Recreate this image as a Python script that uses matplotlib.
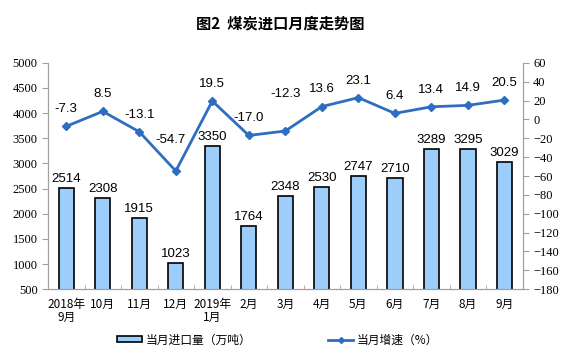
import matplotlib
matplotlib.use('Agg')
import matplotlib.pyplot as plt
from matplotlib.lines import Line2D
from matplotlib.patches import Patch

plt.rcParams['font.family'] = ['Noto Sans CJK SC', 'DejaVu Sans']

months = ['2018年\n9月', '10月', '11月', '12月', '2019年\n1月', '2月', '3月',
          '4月', '5月', '6月', '7月', '8月', '9月']
imports = [2514, 2308, 1915, 1023, 3350, 1764, 2348, 2530, 2747, 2710, 3289, 3295, 3029]
growth = [-7.3, 8.5, -13.1, -54.7, 19.5, -17.0, -12.3, 13.6, 23.1, 6.4, 13.4, 14.9, 20.5]
growth_labels = ['-7.3', '8.5', '-13.1', '-54.7', '19.5', '-17.0', '-12.3',
                 '13.6', '23.1', '6.4', '13.4', '14.9', '20.5']

barColor = '#9dcdfb'
lineColor = '#2e6ec0'
grey = '#a0a0a0'

# label nudges (points) so that labels clear the line like in the original
nudgeX = {3: -4}
nudgeY = {3: 10, 6: 14}

fig = plt.figure(figsize=(5.61, 3.57), dpi=100)
ax = fig.add_axes([0.0856, 0.19, 0.846, 0.634])
ax2 = ax.twinx()

x = list(range(len(months)))
ax.bar(x, imports, width=0.42, color=barColor, edgecolor='black', linewidth=1.2, zorder=2)
for xi, v in zip(x, imports):
    ax.text(xi, v + 60, str(v), ha='center', va='bottom', fontsize=9.5,
            family='Liberation Sans')

ax.set_ylim(500, 5000)
ax.set_yticks(range(500, 5001, 500))
ax.set_xlim(-0.5, len(months) - 0.5)
ax.set_xticks(x)
ax.set_xticklabels(months, fontsize=8.5, linespacing=1.05)
ax.set_xticks([i + 0.5 for i in range(len(months) - 1)], minor=True)
ax.tick_params(axis='x', which='major', length=0, pad=6)
ax.tick_params(axis='x', which='minor', length=3, direction='in', color=grey)
ax.tick_params(axis='y', length=4, color=grey, labelsize=9)
for lab in ax.get_yticklabels():
    lab.set_family('Liberation Serif')

ax2.plot(x, growth, color=lineColor, linewidth=2, marker='D', markersize=4.5, zorder=3)
for i, (xi, v, s) in enumerate(zip(x, growth, growth_labels)):
    ax2.annotate(s, (xi, v), xytext=(nudgeX.get(i, 0), 8 + nudgeY.get(i, 0)),
                 textcoords='offset points', ha='center', va='bottom', fontsize=9.5,
                 family='Liberation Sans')
ax2.set_ylim(-180, 60)
ax2.set_yticks(range(-180, 61, 20))
ax2.tick_params(axis='y', length=4, color=grey, labelsize=9)
for lab in ax2.get_yticklabels():
    lab.set_family('Liberation Serif')

for a in (ax, ax2):
    a.spines['top'].set_visible(False)
    for s in ('left', 'right', 'bottom'):
        a.spines[s].set_color(grey)
ax.set_zorder(ax2.get_zorder() - 1)
ax.patch.set_visible(False)

fig.text(0.5, 0.935, '图2  煤炭进口月度走势图', ha='center', va='center',
         fontsize=11, fontweight='bold')

handles = [Patch(facecolor=barColor, edgecolor='black', linewidth=1.2),
           Line2D([0], [0], color=lineColor, linewidth=2, marker='D', markersize=3)]
fig.legend(handles, ['当月进口量（万吨）', '当月增速（%）'], loc='center',
           bbox_to_anchor=(0.495, 0.048), ncol=2, frameon=False, fontsize=8.5,
           handlelength=2.1, handleheight=0.4, handletextpad=0.3, columnspacing=6.5,
           borderpad=0)

fig.savefig('out.png', dpi=100)
